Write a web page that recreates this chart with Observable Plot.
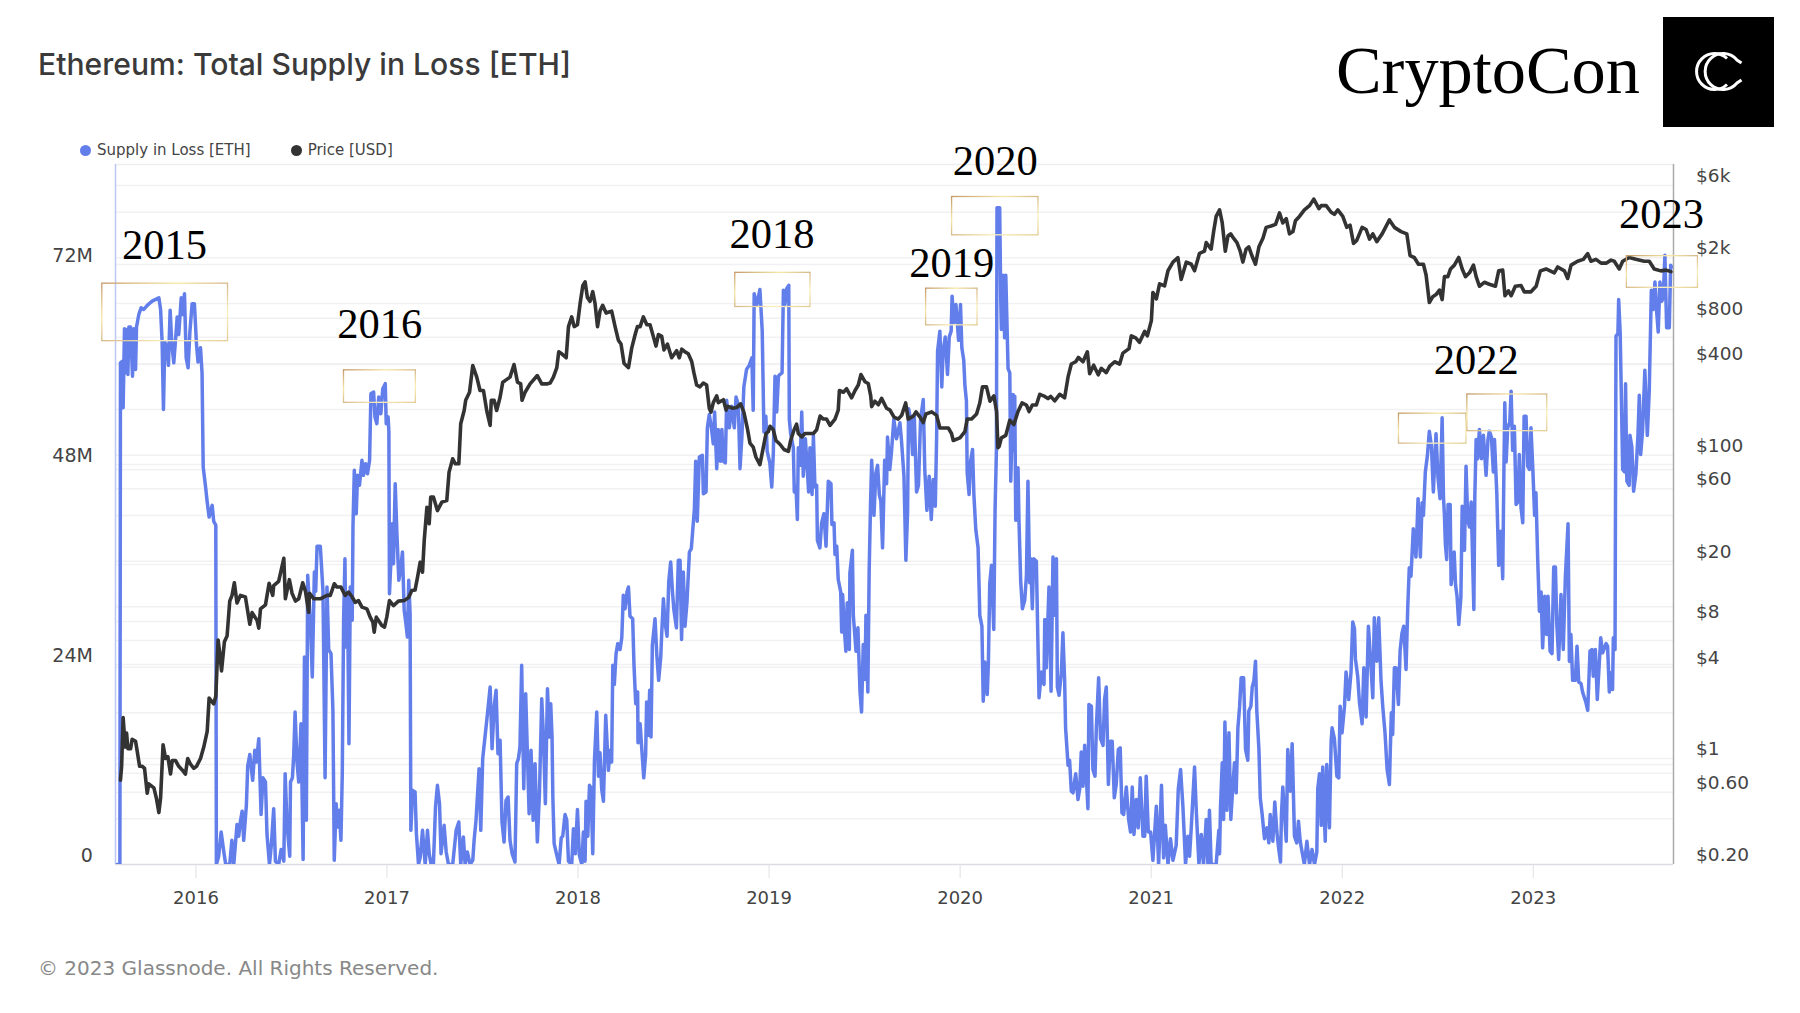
<!DOCTYPE html>
<html>
<head>
<meta charset="utf-8">
<script src="https://cdn.jsdelivr.net/npm/d3@7"></script>
<script src="https://cdn.jsdelivr.net/npm/@observablehq/plot@0.6"></script>
<style>
html,body{margin:0;padding:0;background:#fff;width:1800px;height:1013px;overflow:hidden}
#wrap{position:relative;width:1800px;height:1013px}
#title{position:absolute;left:38px;top:46px;font:500 30.1px Inter,sans-serif;color:#3a3a3a;white-space:nowrap}
#brand{position:absolute;left:1336px;top:31px;font:68.4px "Liberation Serif",serif;color:#000;white-space:nowrap}
#legend{position:absolute;left:80px;top:141px;font:15px "DejaVu Sans",sans-serif;color:#444;display:flex;gap:0;z-index:2;white-space:nowrap}
#legend span{display:inline-flex;align-items:center}
#legend i{width:11px;height:11px;border-radius:50%;display:inline-block;margin-right:6px}
#chart{position:absolute;left:0;top:130px}
#foot{position:absolute;left:38px;top:956px;font:20px "DejaVu Sans",sans-serif;color:#888;white-space:nowrap}
#logo{position:absolute;left:1663px;top:17px;width:111px;height:110px;background:#000}
</style>
</head>
<body>
<div id="wrap">
<div id="title">Ethereum: Total Supply in Loss [ETH]</div>
<div id="brand">CryptoCon</div>
<svg id="logo" viewBox="0 0 111 110"><path d="M64 41.5A18 18 0 1 0 64 67.5" fill="none" stroke="#fff" stroke-width="3"/><path d="M78.5 46L74 43A18 18 0 1 0 74 66L78.5 63" fill="none" stroke="#fff" stroke-width="3"/></svg>
<div id="legend"><span style="margin-right:40px"><i style="background:#627eea"></i>Supply in Loss [ETH]</span><span><i style="background:#333"></i>Price [USD]</span></div>
<div id="chart"></div>
<div id="foot">© 2023 Glassnode. All Rights Reserved.</div>
</div>
<script>
// Supply in loss, millions of ETH: [decimal year, value]
const supply2015=[[2015.588,0],[2015.602,0],[2015.605,60.2],[2015.616,60.4],[2015.619,54.8],[2015.626,64.3],[2015.631,59],[2015.637,64.2],[2015.644,58.8],[2015.649,64.5],[2015.658,64.5],[2015.668,58.6],[2015.675,64.3],[2015.684,59.4],[2015.689,64.5],[2015.701,66],[2015.713,66.8],[2015.727,66.6],[2015.745,67.1],[2015.771,67.6],[2015.806,68],[2015.815,66.6],[2015.823,62.7],[2015.83,54.6],[2015.837,62.7],[2015.849,62],[2015.856,59.9],[2015.865,66.5],[2015.874,62.4],[2015.884,60.2],[2015.893,62.9],[2015.902,65.7],[2015.91,63.6],[2015.923,68],[2015.931,66],[2015.94,68.5],[2015.949,60.8],[2015.959,59.6],[2015.968,63.8],[2015.98,67.3],[2015.992,67.3]];
const supply2016=[[2016.003,62.4],[2016.011,60.3],[2016.024,62],[2016.032,59],[2016.038,47.7],[2016.05,45.4],[2016.059,43.5],[2016.069,41.7],[2016.085,43.1],[2016.093,41.2],[2016.104,40.7],[2016.107,0],[2016.119,1],[2016.132,3.9],[2016.146,1.5],[2016.156,0],[2016.177,0],[2016.188,2.9],[2016.198,0],[2016.215,4.8],[2016.224,3.4],[2016.233,5.2],[2016.242,6.4],[2016.25,2.9],[2016.264,7.1],[2016.271,11.8],[2016.282,13.2],[2016.297,10.1],[2016.308,13.7],[2016.317,12.3],[2016.329,15.1],[2016.341,6],[2016.351,10.4],[2016.364,9.9],[2016.372,3.6],[2016.385,0],[2016.395,2.4],[2016.407,6.7],[2016.416,0.4],[2016.433,0],[2016.446,1.8],[2016.46,0.4],[2016.467,10.9],[2016.477,4.8],[2016.491,1],[2016.495,9.9],[2016.505,10.4],[2016.512,13.2],[2016.519,18.3],[2016.529,12.3],[2016.538,9.9],[2016.55,16.9],[2016.561,0.6],[2016.568,24.9],[2016.578,5.3],[2016.585,34.7],[2016.599,29.1],[2016.609,22.5],[2016.62,35.1],[2016.627,32.8],[2016.634,38.2],[2016.651,38.2],[2016.665,32.8],[2016.676,10.4],[2016.686,33.3],[2016.695,25.8],[2016.707,25.3],[2016.717,18.5],[2016.724,0.5],[2016.734,7.3],[2016.741,4.5],[2016.75,6.5],[2016.759,2.9],[2016.766,10.9],[2016.773,29.3],[2016.78,36.7],[2016.785,26.1],[2016.79,32.5],[2016.795,28.5],[2016.801,14.5],[2016.808,33.3],[2016.818,29.3],[2016.822,40.5],[2016.829,47.3],[2016.839,42.1],[2016.846,46.7],[2016.856,45.5],[2016.869,48.5],[2016.877,46.7],[2016.888,48.1],[2016.898,46.9],[2016.909,48.5],[2016.916,56.5],[2016.93,56.7],[2016.937,53.7],[2016.947,52.9],[2016.957,56.1],[2016.968,54.1],[2016.978,57.1],[2016.991,57.7],[2016.996,52.9]];
const supply2017=[[2017.006,53.7],[2017.01,51.9],[2017.013,32.5],[2017.02,36.1],[2017.027,40.9],[2017.034,36.1],[2017.043,45.7],[2017.052,39.7],[2017.062,34.1],[2017.073,35.7],[2017.081,37.5],[2017.09,30.5],[2017.097,29.3],[2017.107,27.3],[2017.114,34.1],[2017.121,30.1],[2017.125,4.1],[2017.134,8.9],[2017.147,8.7],[2017.154,3.7],[2017.165,0],[2017.174,0.9],[2017.186,4.1],[2017.2,0],[2017.212,4.1],[2017.221,1.3],[2017.231,0],[2017.243,0],[2017.254,6.9],[2017.264,9.5],[2017.275,7.3],[2017.283,1.3],[2017.299,4.7],[2017.31,1.5],[2017.322,0],[2017.344,0],[2017.362,4.1],[2017.376,5.1],[2017.386,0],[2017.4,3.3],[2017.409,0],[2017.421,1.5],[2017.435,0],[2017.449,0.5],[2017.456,2.9],[2017.466,5.3],[2017.482,11.5],[2017.491,4.1],[2017.501,12.7],[2017.513,15.3],[2017.526,18.1],[2017.54,21.3],[2017.55,13.9],[2017.561,18.9],[2017.571,20.9],[2017.581,13.3],[2017.592,14.9],[2017.602,5.1],[2017.613,2.7],[2017.623,7.7],[2017.634,8.1],[2017.644,2.9],[2017.655,1.3],[2017.67,0.3],[2017.679,12.1],[2017.688,12.7],[2017.696,14.1],[2017.705,23.9],[2017.716,9.1],[2017.726,20.5],[2017.737,11.7],[2017.744,6.1],[2017.754,13.7],[2017.765,5.3],[2017.775,12.1],[2017.787,2.7],[2017.798,8.5],[2017.81,19.9],[2017.819,15.3],[2017.829,7.3],[2017.84,21.1],[2017.85,15.3],[2017.857,19.3],[2017.864,15.3],[2017.868,8.3],[2017.875,2.5],[2017.889,1.1],[2017.901,0],[2017.912,3.2],[2017.92,3.4],[2017.932,6],[2017.941,5.3],[2017.95,0.4],[2017.967,0],[2017.976,4.3],[2017.986,1.3],[2017.997,6.6]];
const supply2018=[[2018.007,1.1],[2018.02,0],[2018.028,3.9],[2018.037,0.4],[2018.042,7.6],[2018.051,3.4],[2018.06,9.5],[2018.068,9.2],[2018.077,1.3],[2018.086,12.5],[2018.098,18.3],[2018.107,10.6],[2018.115,13.4],[2018.124,9],[2018.133,7.6],[2018.145,17.9],[2018.159,11.3],[2018.168,13.7],[2018.176,12.3],[2018.182,23.9],[2018.19,21.6],[2018.199,25.3],[2018.208,26.5],[2018.22,25.8],[2018.229,27.2],[2018.237,32.3],[2018.246,30.7],[2018.257,32.8],[2018.264,33.3],[2018.272,29.8],[2018.286,29.5],[2018.293,23.9],[2018.302,19.3],[2018.312,20.7],[2018.314,14.6],[2018.325,16.9],[2018.333,14.1],[2018.344,10.4],[2018.354,13.2],[2018.359,19.5],[2018.368,15.5],[2018.375,20.9],[2018.382,15.3],[2018.389,26.3],[2018.403,29.5],[2018.412,25.3],[2018.422,22.1],[2018.433,24.9],[2018.438,27.7],[2018.447,31.9],[2018.455,29.1],[2018.466,27.4],[2018.475,34],[2018.485,36.3],[2018.494,32.8],[2018.502,30.5],[2018.515,28.4],[2018.525,36.5],[2018.534,36.5],[2018.542,27],[2018.551,35.1],[2018.56,28.6],[2018.57,31.4],[2018.583,37.5],[2018.593,37.9],[2018.6,40],[2018.609,42.6],[2018.616,48.4],[2018.624,41.2],[2018.635,48.9],[2018.651,49.1],[2018.656,44.5],[2018.67,44.7],[2018.677,52.4],[2018.687,54],[2018.698,52.4],[2018.708,50.5],[2018.715,54.3],[2018.726,47.5],[2018.734,52.2],[2018.745,48.4],[2018.753,52.2],[2018.76,48.4],[2018.771,48.2],[2018.778,55.7],[2018.792,52.4],[2018.804,55],[2018.818,52.4],[2018.827,56.1],[2018.839,55.2],[2018.848,47.5],[2018.858,51.5],[2018.868,57.3],[2018.882,59.4],[2018.896,59.9],[2018.91,60.8],[2018.917,54.5],[2018.922,68.5],[2018.935,67.1],[2018.952,69],[2018.964,64.1],[2018.973,51.9],[2018.983,53.8],[2018.99,49.6]];
const supply2019=[[2019.004,48.2],[2019.014,45.3],[2019.022,49.2],[2019.031,58.6],[2019.04,54.3],[2019.049,58.6],[2019.057,58.8],[2019.068,59],[2019.075,68.9],[2019.083,67.2],[2019.092,69.1],[2019.103,69.5],[2019.106,53.4],[2019.113,51.7],[2019.127,50],[2019.132,44.7],[2019.141,45.3],[2019.148,41.4],[2019.153,50],[2019.162,47.9],[2019.171,54.3],[2019.179,46.6],[2019.19,51.1],[2019.2,47.4],[2019.207,44.7],[2019.214,50],[2019.225,44.4],[2019.232,51.5],[2019.24,45.3],[2019.249,45.5],[2019.253,38.9],[2019.266,38],[2019.275,41],[2019.287,42.1],[2019.298,38.2],[2019.31,46],[2019.324,45.7],[2019.329,40.8],[2019.34,41],[2019.345,37.2],[2019.354,38.2],[2019.362,34.2],[2019.375,32.7],[2019.38,27.9],[2019.385,32.4],[2019.395,27.9],[2019.402,25.6],[2019.409,31.4],[2019.42,25.8],[2019.423,35],[2019.436,37.7],[2019.441,29.9],[2019.455,25.6],[2019.465,28.4],[2019.476,20.7],[2019.484,18.3],[2019.493,26.4],[2019.502,22.2],[2019.507,29.9],[2019.517,20.7],[2019.524,35.4],[2019.531,43.2],[2019.537,48.5],[2019.549,41.9],[2019.559,47],[2019.568,47.9],[2019.577,44.4],[2019.585,43.6],[2019.594,38],[2019.605,48.5],[2019.615,45.7],[2019.62,51.3],[2019.632,47.4],[2019.641,49.6],[2019.653,53.4],[2019.667,51.1],[2019.685,53],[2019.693,50.9],[2019.706,46.6],[2019.716,36.5],[2019.725,42.3],[2019.73,54.7],[2019.741,53.4],[2019.751,49.2],[2019.76,53.9],[2019.772,44.7],[2019.782,45.5],[2019.793,53.4],[2019.807,55.8],[2019.815,47.4],[2019.826,42.5],[2019.838,46.6],[2019.849,41.4],[2019.859,46.2],[2019.87,43],[2019.877,51.3],[2019.882,61.6],[2019.894,64],[2019.904,57.3],[2019.911,61.6],[2019.922,63.3],[2019.934,58.8],[2019.943,63.3],[2019.953,64],[2019.958,68.2],[2019.967,65],[2019.978,67.2],[2019.992,62.9]];
const supply2020=[[2020.002,67.2],[2020.009,62],[2020.019,60.5],[2020.025,57.5],[2020.033,55.6],[2020.037,47],[2020.047,44.4],[2020.054,48.3],[2020.065,49.8],[2020.072,44.4],[2020.082,40.2],[2020.094,38],[2020.103,29.9],[2020.114,28.6],[2020.121,19.6],[2020.129,24.3],[2020.142,20.4],[2020.148,24.3],[2020.155,33.7],[2020.164,35.9],[2020.176,28.2],[2020.183,42.7],[2020.19,49.7],[2020.193,78.8],[2020.207,78.8],[2020.213,67.4],[2020.216,64.2],[2020.225,70.7],[2020.233,63.2],[2020.239,70.7],[2020.251,59.5],[2020.26,59],[2020.265,46],[2020.277,56.4],[2020.281,49.7],[2020.286,56.2],[2020.291,41.3],[2020.303,47.6],[2020.308,41.3],[2020.317,34],[2020.326,30.7],[2020.338,31.7],[2020.347,34.6],[2020.355,46],[2020.364,33.8],[2020.369,36.7],[2020.378,30.7],[2020.385,36.7],[2020.399,36.4],[2020.408,25.7],[2020.413,20],[2020.425,23.1],[2020.439,21.6],[2020.443,29.4],[2020.451,23.6],[2020.465,33.3],[2020.476,20.8],[2020.486,36.9],[2020.495,29.9],[2020.504,36.7],[2020.509,21.3],[2020.518,20.3],[2020.53,23.1],[2020.538,27.8],[2020.547,22.1],[2020.552,16.4],[2020.565,11.9],[2020.573,12.5],[2020.582,8.8],[2020.591,8.6],[2020.605,10.9],[2020.617,7.8],[2020.626,9.1],[2020.634,13.5],[2020.643,9.4],[2020.652,14.3],[2020.669,6.7],[2020.674,19.2],[2020.687,19],[2020.695,11.4],[2020.706,10.6],[2020.713,16.4],[2020.725,22.4],[2020.735,15.1],[2020.748,14.3],[2020.756,19.8],[2020.765,21.3],[2020.776,9.6],[2020.786,14.8],[2020.796,14.8],[2020.807,8],[2020.817,9.6],[2020.828,13.8],[2020.838,14],[2020.847,6.2],[2020.856,6],[2020.87,9.3],[2020.882,5.4],[2020.892,3.9],[2020.901,9.3],[2020.91,3.6],[2020.922,7.8],[2020.932,4.4],[2020.943,10.4],[2020.957,3.4],[2020.966,3.4],[2020.974,10.6],[2020.985,3.9],[2020.997,3.9]];
const supply2021=[[2021.009,0.5],[2021.027,7],[2021.039,0],[2021.054,9.5],[2021.065,0.8],[2021.074,4.7],[2021.088,0],[2021.101,3.1],[2021.114,0.5],[2021.131,2.3],[2021.142,9.1],[2021.154,11.4],[2021.166,7],[2021.18,0],[2021.192,3.4],[2021.201,1],[2021.211,4.9],[2021.227,11.7],[2021.236,6.5],[2021.25,0],[2021.262,3.6],[2021.274,0],[2021.288,5.4],[2021.297,0],[2021.305,6.5],[2021.314,0],[2021.34,0],[2021.354,4.1],[2021.358,1.3],[2021.363,7],[2021.372,12.2],[2021.379,5.4],[2021.386,17.1],[2021.396,6.5],[2021.407,15.8],[2021.417,5.4],[2021.428,9.6],[2021.436,12.2],[2021.445,8.6],[2021.454,16.4],[2021.463,19],[2021.471,22.4],[2021.484,22.4],[2021.494,13.8],[2021.506,12.5],[2021.511,18.4],[2021.522,19],[2021.529,21.3],[2021.538,22.1],[2021.546,24.4],[2021.553,18.4],[2021.564,13.8],[2021.571,8],[2021.581,6],[2021.593,3.1],[2021.606,4.4],[2021.616,2.6],[2021.623,6],[2021.637,2.8],[2021.647,7.5],[2021.658,3.9],[2021.668,1.8],[2021.677,0.3],[2021.682,6],[2021.689,9.3],[2021.698,6],[2021.707,2.8],[2021.715,13.8],[2021.728,8.8],[2021.738,14.5],[2021.75,3.4],[2021.762,2.6],[2021.771,5.2],[2021.78,2.8],[2021.79,1.5],[2021.802,0],[2021.815,2.8],[2021.829,0],[2021.842,1.8],[2021.855,0],[2021.867,1.5],[2021.872,9.1],[2021.881,10.9],[2021.89,4.7],[2021.898,11.7],[2021.911,2.8],[2021.919,12],[2021.933,4.4],[2021.942,14.8],[2021.947,16.4],[2021.959,15.1],[2021.972,10.6],[2021.982,10.4],[2021.989,19],[2021.999,15.8]];
const supply2022=[[2022.012,19],[2022.02,23.1],[2022.034,19.8],[2022.046,23.1],[2022.055,29.1],[2022.064,28.3],[2022.069,24.7],[2022.081,22.6],[2022.09,19.5],[2022.104,16.9],[2022.113,23.6],[2022.125,17.7],[2022.137,28.6],[2022.151,23.6],[2022.16,20],[2022.168,29.6],[2022.181,24.4],[2022.191,29.6],[2022.203,22.1],[2022.212,19],[2022.224,15.8],[2022.235,11.4],[2022.247,9.6],[2022.257,18.2],[2022.264,15.6],[2022.273,23.6],[2022.282,23.6],[2022.294,19.2],[2022.303,25.7],[2022.313,27.8],[2022.322,28.6],[2022.334,23.4],[2022.343,30.9],[2022.351,35.6],[2022.36,34.6],[2022.372,40.3],[2022.386,36.9],[2022.397,43.9],[2022.409,36.9],[2022.418,43.4],[2022.425,41.9],[2022.435,47.1],[2022.446,49.1],[2022.456,52],[2022.467,50.2],[2022.477,44.7],[2022.491,51.7],[2022.501,46.5],[2022.512,43.9],[2022.523,53.6],[2022.53,44.1],[2022.535,41.9],[2022.54,38.4],[2022.547,36.6],[2022.554,43.2],[2022.565,43.2],[2022.57,33.6],[2022.579,35.4],[2022.586,37.5],[2022.593,33.6],[2022.601,32.2],[2022.61,28.8],[2022.621,32],[2022.628,43],[2022.64,37.7],[2022.648,47.8],[2022.657,41.4],[2022.666,40.5],[2022.675,43.5],[2022.689,30.6],[2022.694,44.1],[2022.701,51],[2022.709,48.7],[2022.718,52.2],[2022.729,48.7],[2022.739,51.5],[2022.753,46.7],[2022.763,51],[2022.77,52],[2022.781,51.3],[2022.791,47.1],[2022.797,51],[2022.809,44.6],[2022.819,35.9],[2022.831,40],[2022.84,34.3],[2022.847,48.7],[2022.851,55.4],[2022.858,48.3],[2022.866,52.4],[2022.877,53.1],[2022.884,56.8],[2022.892,49.7],[2022.901,52.6],[2022.91,43.2],[2022.92,43.5],[2022.927,49.2],[2022.936,42.8],[2022.945,41],[2022.952,53.8],[2022.962,53.8],[2022.971,47.8],[2022.98,47.4],[2022.988,52.4],[2022.997,47.8]];
const supply2023=[[2023.007,41.9],[2023.014,44.6],[2023.023,36.8],[2023.032,30.4],[2023.041,32.7],[2023.049,26],[2023.06,32.2],[2023.07,27.6],[2023.077,32.2],[2023.088,25.6],[2023.098,25.3],[2023.107,35.7],[2023.116,35.7],[2023.123,29],[2023.133,24.6],[2023.145,32.4],[2023.157,25.8],[2023.168,34.5],[2023.182,40.9],[2023.189,24.4],[2023.197,27.6],[2023.206,22.1],[2023.22,22.1],[2023.229,26.2],[2023.238,21.9],[2023.25,21.7],[2023.258,20.7],[2023.276,19.4],[2023.285,18.5],[2023.297,25.6],[2023.307,25.8],[2023.314,22.6],[2023.325,25.8],[2023.335,19.8],[2023.353,27.2],[2023.363,25.4],[2023.381,26.5],[2023.389,26.2],[2023.398,20.7],[2023.407,23],[2023.415,21],[2023.419,27.2],[2023.428,25.8],[2023.433,63.4],[2023.443,63.7],[2023.447,67.8],[2023.455,63.7],[2023.468,47.4],[2023.478,47.1],[2023.483,57.7],[2023.49,46],[2023.502,45.5],[2023.506,51.5],[2023.516,50.1],[2023.525,44.8],[2023.537,46.9],[2023.548,51.5],[2023.555,56.3],[2023.562,49.2],[2023.572,52],[2023.584,59.3],[2023.597,51.5],[2023.607,56.8],[2023.618,68.9],[2023.628,66.6],[2023.637,69.9],[2023.645,66.6],[2023.654,63.9],[2023.663,69.9],[2023.673,67.6],[2023.68,68],[2023.689,73.1],[2023.698,64.4],[2023.712,64.4],[2023.719,71.9],[2023.726,71.7]];

// ETH price, USD: [decimal year, value]
const price2015=[[2015.605,0.72],[2015.611,0.888],[2015.619,1.86],[2015.63,1.19],[2015.637,1.47],[2015.644,1.16],[2015.658,1.16],[2015.666,1.34],[2015.684,1.3],[2015.692,1.13],[2015.705,0.888],[2015.719,0.888],[2015.731,0.86],[2015.745,0.59],[2015.753,0.68],[2015.78,0.64],[2015.794,0.54],[2015.806,0.44],[2015.815,0.55],[2015.828,1.23],[2015.841,1],[2015.853,1.03],[2015.867,0.79],[2015.876,0.97],[2015.893,0.97],[2015.91,0.888],[2015.928,0.84],[2015.945,0.79],[2015.957,1],[2015.971,0.92],[2015.989,0.86]];
const price2016=[[2016.003,0.888],[2016.024,1],[2016.041,1.19],[2016.059,1.51],[2016.069,2.5],[2016.093,2.29],[2016.104,2.57],[2016.116,6.05],[2016.125,4.92],[2016.134,3.78],[2016.149,5.88],[2016.163,6.42],[2016.177,10.9],[2016.189,11.9],[2016.201,14.4],[2016.215,10.6],[2016.233,11.9],[2016.259,11.6],[2016.282,7.67],[2016.294,9.16],[2016.32,8.14],[2016.329,7.23],[2016.338,9.7],[2016.364,10.3],[2016.383,14.3],[2016.402,11.9],[2016.407,13.8],[2016.433,14.7],[2016.46,20.9],[2016.468,11.3],[2016.489,15.1],[2016.503,12.3],[2016.521,10.9],[2016.538,11.3],[2016.559,14.4],[2016.573,12.7],[2016.59,9.2],[2016.594,12.3],[2016.617,11.3],[2016.651,11.3],[2016.686,11.9],[2016.703,11.9],[2016.712,12.8],[2016.724,14.2],[2016.738,13.5],[2016.759,13.5],[2016.781,11.9],[2016.799,12.5],[2016.816,11.7],[2016.834,10.7],[2016.851,11],[2016.869,9.95],[2016.895,9.7],[2016.912,8.55],[2016.926,7.93],[2016.933,6.81],[2016.944,8.55],[2016.961,7.93],[2016.973,7.53],[2016.987,7.35],[2016.999,8.55]];
const price2017=[[2017.013,11],[2017.034,10.2],[2017.06,10.9],[2017.09,11],[2017.113,11.5],[2017.13,12.8],[2017.147,12.9],[2017.16,15.7],[2017.174,19.7],[2017.186,16.9],[2017.195,27.4],[2017.209,45.4],[2017.221,35.3],[2017.229,52.9],[2017.243,52.9],[2017.264,43.1],[2017.287,49],[2017.313,50.2],[2017.325,77.3],[2017.344,94.6],[2017.358,87.7],[2017.376,87.7],[2017.386,161],[2017.404,197],[2017.412,230],[2017.432,260],[2017.449,390],[2017.47,327],[2017.487,267],[2017.505,267],[2017.522,197],[2017.54,157],[2017.546,230],[2017.561,230],[2017.574,197],[2017.592,241],[2017.606,303],[2017.618,310],[2017.644,327],[2017.665,396],[2017.683,303],[2017.7,295],[2017.707,230],[2017.723,260],[2017.749,295],[2017.787,335],[2017.81,295],[2017.836,295],[2017.854,299],[2017.871,327],[2017.889,378],[2017.899,480],[2017.915,466],[2017.938,439],[2017.95,704],[2017.967,816],[2017.98,704],[2017.997,724]];
const price2018=[[2018.011,1002],[2018.025,1309],[2018.037,1390],[2018.049,1097],[2018.063,1033],[2018.077,1197],[2018.089,1002],[2018.102,704],[2018.115,891],[2018.129,973],[2018.147,865],[2018.176,891],[2018.194,704],[2018.211,573],[2018.225,540],[2018.241,402],[2018.264,378],[2018.281,508],[2018.299,625],[2018.311,704],[2018.325,704],[2018.342,816],[2018.36,724],[2018.377,724],[2018.394,607],[2018.408,524],[2018.421,625],[2018.438,607],[2018.45,494],[2018.468,540],[2018.49,439],[2018.516,488],[2018.53,439],[2018.543,500],[2018.56,480],[2018.577,466],[2018.595,414],[2018.607,347],[2018.621,290],[2018.638,282],[2018.656,299],[2018.673,290],[2018.687,204],[2018.696,192],[2018.708,222],[2018.726,246],[2018.734,222],[2018.761,232],[2018.775,198],[2018.782,210],[2018.81,204],[2018.83,206],[2018.851,218],[2018.868,192],[2018.886,151],[2018.9,120],[2018.917,113],[2018.931,97.2],[2018.952,86.5],[2018.97,113],[2018.984,139],[2018.996,143]];
const price2019=[[2019.005,155],[2019.022,147],[2019.036,125],[2019.057,118],[2019.078,109],[2019.101,106],[2019.113,125],[2019.131,147],[2019.144,160],[2019.153,139],[2019.171,132],[2019.188,139],[2019.211,139],[2019.232,139],[2019.249,147],[2019.267,181],[2019.284,173],[2019.301,173],[2019.319,157],[2019.345,173],[2019.362,198],[2019.368,267],[2019.389,260],[2019.406,274],[2019.432,239],[2019.45,267],[2019.467,290],[2019.481,340],[2019.502,305],[2019.519,297],[2019.532,246],[2019.537,209],[2019.554,227],[2019.572,215],[2019.589,237],[2019.615,204],[2019.633,198],[2019.654,178],[2019.676,173],[2019.694,183],[2019.715,221],[2019.728,173],[2019.755,181],[2019.769,193],[2019.79,178],[2019.807,164],[2019.821,187],[2019.851,193],[2019.877,183],[2019.894,151],[2019.912,151],[2019.938,151],[2019.955,139],[2019.964,125],[2019.999,130]];
const price2020=[[2020.025,143],[2020.037,173],[2020.06,173],[2020.086,187],[2020.103,221],[2020.117,282],[2020.138,282],[2020.156,227],[2020.177,246],[2020.191,193],[2020.198,112],[2020.204,114],[2020.216,130],[2020.239,135],[2020.26,170],[2020.281,159],[2020.303,194],[2020.324,221],[2020.347,214],[2020.361,194],[2020.378,214],[2020.399,214],[2020.417,252],[2020.443,244],[2020.46,236],[2020.474,244],[2020.495,228],[2020.521,252],[2020.547,239],[2020.565,328],[2020.582,399],[2020.605,413],[2020.619,441],[2020.643,413],[2020.666,480],[2020.678,345],[2020.699,392],[2020.723,339],[2020.739,374],[2020.765,350],[2020.783,386],[2020.809,413],[2020.835,399],[2020.852,471],[2020.884,504],[2020.896,612],[2020.919,593],[2020.939,555],[2020.966,655],[2020.98,612]];
const price2021=[[2021.001,771],[2021.009,1183],[2021.027,1072],[2021.044,1349],[2021.07,1306],[2021.088,1644],[2021.114,1875],[2021.14,2004],[2021.157,1442],[2021.184,1875],[2021.21,1815],[2021.227,1644],[2021.253,2143],[2021.279,2213],[2021.288,2523],[2021.314,2286],[2021.327,2979],[2021.34,3750],[2021.358,4139],[2021.372,3396],[2021.388,2213],[2021.402,2786],[2021.416,2879],[2021.431,2696],[2021.449,2523],[2021.466,2213],[2021.48,1875],[2021.497,2286],[2021.511,2364],[2021.527,2072],[2021.546,1815],[2021.564,2364],[2021.585,2696],[2021.602,3177],[2021.628,3243],[2021.651,3328],[2021.672,3954],[2021.689,3396],[2021.707,3622],[2021.724,2879],[2021.742,2979],[2021.755,3510],[2021.776,3750],[2021.802,4139],[2021.829,4418],[2021.851,4880],[2021.878,4217],[2021.89,4418],[2021.916,4418],[2021.942,3999],[2021.959,3873],[2021.977,4139]];
const price2022=[[2022.003,3750],[2022.024,3177],[2022.041,3283],[2022.059,2489],[2022.076,2606],[2022.104,3177],[2022.125,3076],[2022.143,2661],[2022.16,2879],[2022.181,2559],[2022.209,2879],[2022.247,3556],[2022.273,3177],[2022.308,2979],[2022.338,2879],[2022.355,2072],[2022.378,2004],[2022.399,1815],[2022.425,1815],[2022.439,1542],[2022.456,1016],[2022.474,1109],[2022.491,1145],[2022.509,1227],[2022.523,1062],[2022.535,1503],[2022.553,1503],[2022.567,1690],[2022.587,1791],[2022.61,2012],[2022.628,1690],[2022.645,1503],[2022.666,1594],[2022.687,1791],[2022.701,1503],[2022.718,1300],[2022.744,1380],[2022.77,1340],[2022.802,1300],[2022.819,1641],[2022.84,1660],[2022.852,1125],[2022.87,1213],[2022.884,1125],[2022.906,1300],[2022.936,1315],[2022.953,1194],[2022.988,1194]];
const price2023=[[2023.015,1300],[2023.037,1641],[2023.067,1690],[2023.11,1594],[2023.128,1742],[2023.163,1641],[2023.18,1462],[2023.198,1791],[2023.232,1901],[2023.262,1955],[2023.285,2133],[2023.302,1901],[2023.328,1955],[2023.355,1845],[2023.381,1845],[2023.407,1932],[2023.424,1901],[2023.45,1690],[2023.468,1901],[2023.502,2012],[2023.537,1955],[2023.581,1901],[2023.607,1901],[2023.633,1690],[2023.668,1641],[2023.695,1660],[2023.721,1622]];

const yearTicks=[2016,2017,2018,2019,2020,2021,2022,2023];
const supplyTicks=[0,24,48,72];
const supplyGrid=[12,24,36,48,60,72];
const priceTicks=[0.2,0.6,1,4,8,20,60,100,400,800,2000,6000];
const priceTickLabels=["$0.20","$0.60","$1","$4","$8","$20","$60","$100","$400","$800","$2k","$6k"];
const priceGrid=[0.4,0.6,0.8,1,2,4,6,8,10,20,40,60,80,100,200,400,600,800,1000,2000,4000,6000];

// Peak annotations: label and its box, in the chart's units
const peakLabels=["2015","2016","2018","2019","2020","2022","2023"];
const peakLabelYear=[2015.835,2016.962,2019.015,2019.956,2020.184,2022.702,2023.671];
const peakLabelSupply=[74.3,64.8,75.6,72.1,84.4,60.5,78];
const boxYear1=[2015.51,2016.775,2018.823,2019.822,2019.958,2022.297,2022.655,2023.49];
const boxYear2=[2016.168,2017.151,2019.217,2020.091,2020.41,2022.65,2023.073,2023.862];
const boxSupply1=[62.8,55.4,66.9,64.7,75.5,50.5,52,69.2];
const boxSupply2=[69.7,59.3,71,69.1,80.1,54.1,56.4,73];

const supply=[...supply2015,...supply2016,...supply2017,...supply2018,...supply2019,...supply2020,...supply2021,...supply2022,...supply2023];
const price=[...price2015,...price2016,...price2017,...price2018,...price2019,...price2020,...price2021,...price2022,...price2023];

// Right-hand log axis expressed in the units of the left axis
const priceToY=d3.scaleLog().domain([0.2,8252]).range([0,84]);
const priceLabelAt=new Map(priceTicks.map((p,i)=>[priceToY(p),priceTickLabels[i]]));
const boxes=boxYear1.map((_,i)=>({x1:boxYear1[i],x2:boxYear2[i],y1:boxSupply1[i],y2:boxSupply2[i]}));
const peaks=peakLabels.map((t,i)=>({t,x:peakLabelYear[i],y:peakLabelSupply[i]}));

const goldDefs=()=>{
  const s=d3.create("svg:defs");
  const g=s.append("linearGradient").attr("id","gold").attr("x1",0).attr("y1",0).attr("x2",1).attr("y2",1);
  [[0,"#c49a68"],[0.3,"#f8e8a8"],[0.5,"#d6b888"],[0.75,"#fbf0bd"],[1,"#e3cc92"]].forEach(([o,c])=>g.append("stop").attr("offset",o).attr("stop-color",c));
  return s.node();
};

const chart=Plot.plot({
  width:1800,height:800,marginLeft:115,marginRight:127,marginTop:34,marginBottom:66,
  style:{background:"transparent",fontFamily:"'DejaVu Sans',sans-serif",overflow:"visible"},
  x:{type:"linear",domain:[2015.579,2023.734]},
  y:{domain:[0,84]},
  marks:[
    goldDefs,
    Plot.ruleY(priceGrid.map(p=>priceToY(p)),{stroke:"#f1f1f3",strokeWidth:1.5}),
    Plot.ruleY(supplyGrid,{stroke:"#f1f1f3",strokeWidth:1.5}),
    Plot.ruleY([84],{stroke:"#eeeeee",strokeWidth:1.5}),
    Plot.ruleY([0],{stroke:"#dcdde2",strokeWidth:1.5}),
    Plot.ruleX([2015.579],{stroke:"#bcc8f6",strokeWidth:1.5}),
    Plot.line(supply,{x:d=>d[0],y:d=>d[1],stroke:"#627eea",strokeWidth:3.5,clip:true}),
    Plot.line(price,{x:d=>d[0],y:d=>priceToY(d[1]),stroke:"#333333",strokeWidth:3.6}),
    Plot.ruleX([2023.734],{stroke:"#aaaaaa",strokeWidth:1.5}),
    Plot.rect(boxes,{x1:"x1",x2:"x2",y1:"y1",y2:"y2",fill:"none",stroke:"url(#gold)",strokeWidth:1.3}),
    Plot.text(peaks,{x:"x",y:"y",text:"t",fontFamily:"'Liberation Serif',serif",fontSize:42.5,fill:"#000",textAnchor:"middle",lineAnchor:"middle"}),
    Plot.axisX({ticks:yearTicks,tickFormat:d=>String(d),tickSize:14,tickPadding:13,fontSize:18,stroke:"#e0e0e4",color:"#444",label:null,anchor:"bottom"}),
    Plot.axisY({anchor:"left",ticks:supplyTicks,tickFormat:d=>d===0?"0":d+"M",tickSize:0,tickPadding:22.6,dy:-9,fontSize:19,color:"#444",label:null}),
    Plot.axisY({anchor:"right",ticks:priceTicks.map(p=>priceToY(p)),tickFormat:d=>priceLabelAt.get(d),tickSize:0,tickPadding:22.6,dy:-9.5,fontSize:18.5,color:"#444",label:null})
  ]
});
document.getElementById("chart").appendChild(chart);
</script>
</body>
</html>
